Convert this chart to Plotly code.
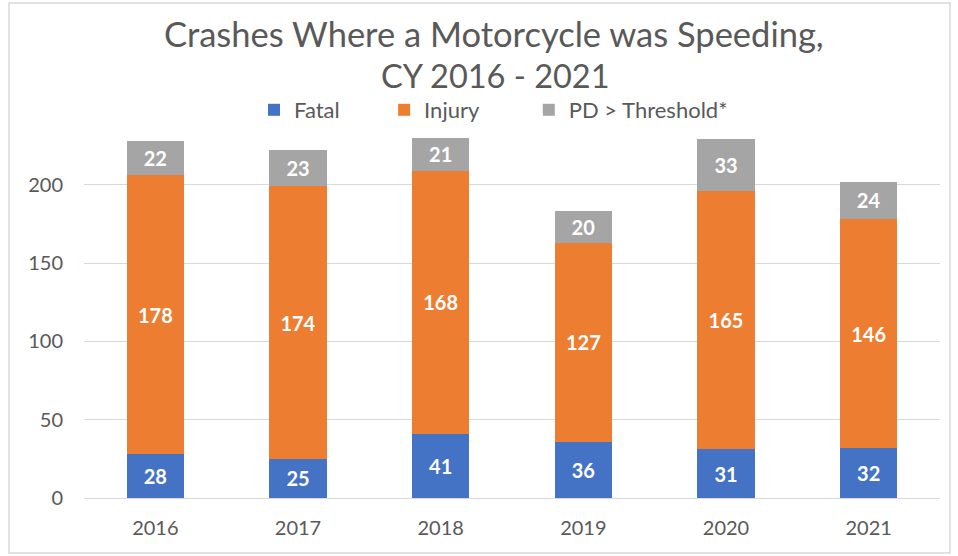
import plotly.graph_objects as go

years = ["2016", "2017", "2018", "2019", "2020", "2021"]
fatal = [28, 25, 41, 36, 31, 32]
injury = [178, 174, 168, 127, 165, 146]
pd_threshold = [22, 23, 21, 20, 33, 24]
series_names = ["Fatal", "Injury", "PD > Threshold*"]

FONT = "Lato"
GREY = "#595959"
L, R, T, B = 84, 18, 130, 58
W, H = 958, 556
pw, ph = W - L - R, H - T - B
NB = "\u00a0"

def py(p):  # pixel y (from top) -> paper y
    return (H - B - p) / ph

def px(p):  # pixel x -> paper x
    return (p - L) / pw

pads = [NB * 7, NB * 8, ""]
fig = go.Figure()
for name, pad, vals, col in zip(series_names, pads, [fatal, injury, pd_threshold],
                                ["#4472C4", "#ED7D31", "#A5A5A5"]):
    fig.add_trace(go.Bar(
        x=years, y=vals, name=name + pad, marker=dict(color=col, line=dict(width=0)),
        text=vals, textposition="inside", insidetextanchor="middle",
        textfont=dict(family=FONT, size=20, color="white", weight="bold"),
        cliponaxis=False,
    ))

fig.update_layout(
    barmode="stack", bargap=0.6,
    width=W, height=H,
    margin=dict(l=L, r=R, t=T, b=B),
    paper_bgcolor="white", plot_bgcolor="white",
    font=dict(family=FONT, color=GREY),
    legend=dict(orientation="h", x=px(254), xanchor="left", y=py(110),
                yanchor="middle", font=dict(size=22, color=GREY),
                traceorder="normal", itemwidth=30),
    xaxis=dict(showgrid=False, showline=False, ticks="",
               tickfont=dict(size=20, color=GREY), ticklabelstandoff=16),
    yaxis=dict(range=[0, 235], tickvals=[0, 50, 100, 150, 200], showgrid=True,
               gridcolor="#D9D9D9", gridwidth=1.3, zeroline=True, zerolinecolor="#D9D9D9",
               zerolinewidth=1.3, ticks="", showline=False,
               tickfont=dict(size=20, color=GREY), ticklabelstandoff=20),
    uniformtext=dict(mode=False),
    annotations=[
        dict(text="Crashes Where a Motorcycle was Speeding,", xref="paper", yref="paper",
             x=px(494), y=py(34), xanchor="center", yanchor="middle", showarrow=False,
             font=dict(family=FONT, size=34.5, color=GREY)),
        dict(text="CY 2016 - 2021", xref="paper", yref="paper",
             x=px(495), y=py(76), xanchor="center", yanchor="middle", showarrow=False,
             font=dict(family=FONT, size=32.5, color=GREY)),
    ],
    shapes=[dict(type="rect", xref="paper", yref="paper",
                 x0=px(9), x1=px(950), y0=py(553), y1=py(3),
                 line=dict(color="#D9D9D9", width=1.5), fillcolor="rgba(0,0,0,0)",
                 layer="below")],
)

fig.write_html("out.html", post_script="document.body.style.margin='0';",
               config={"displayModeBar": False})
